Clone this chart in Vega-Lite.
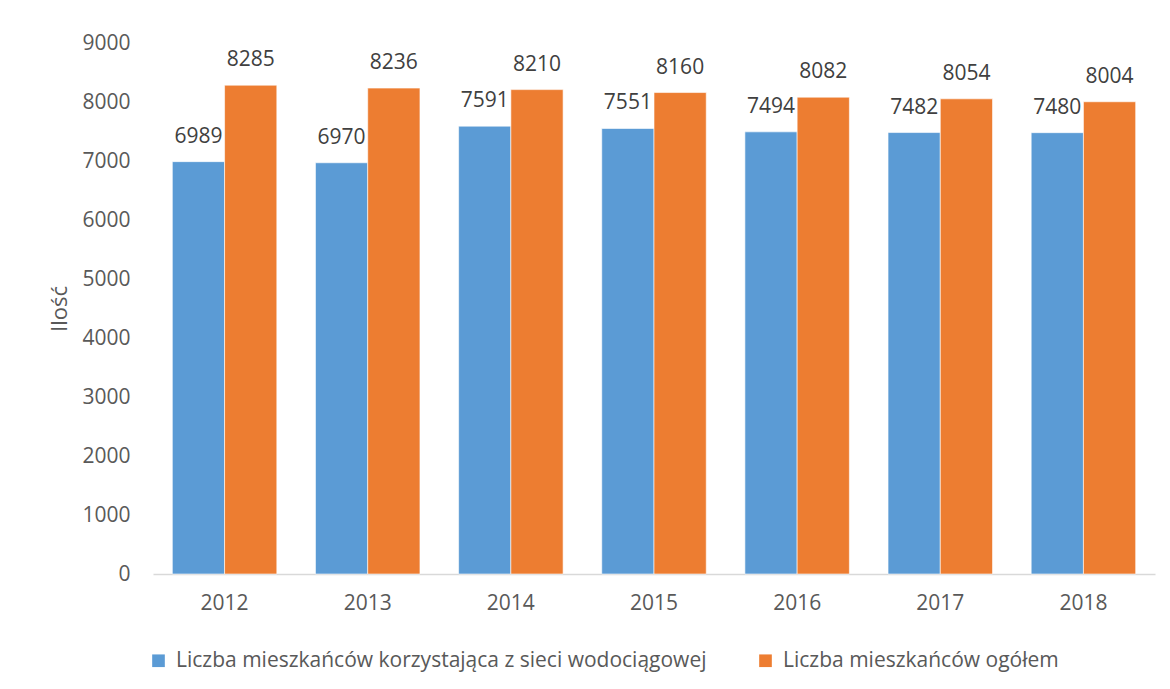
{
  "$schema": "https://vega.github.io/schema/vega-lite/v6.json",
  "autosize": "none",
  "width": 1002,
  "height": 531,
  "padding": {"left": 153, "top": 43, "right": 15, "bottom": 115},
  "background": "white",
  "config": {
    "font": "Open Sans",
    "view": {"stroke": null}
  },
  "data": {
    "values": [
      {"rok": "2012", "seria": "Liczba mieszkańców korzystająca z sieci wodociągowej", "wartosc": 6989},
      {"rok": "2012", "seria": "Liczba mieszkańców ogółem", "wartosc": 8285},
      {"rok": "2013", "seria": "Liczba mieszkańców korzystająca z sieci wodociągowej", "wartosc": 6970},
      {"rok": "2013", "seria": "Liczba mieszkańców ogółem", "wartosc": 8236},
      {"rok": "2014", "seria": "Liczba mieszkańców korzystająca z sieci wodociągowej", "wartosc": 7591},
      {"rok": "2014", "seria": "Liczba mieszkańców ogółem", "wartosc": 8210},
      {"rok": "2015", "seria": "Liczba mieszkańców korzystająca z sieci wodociągowej", "wartosc": 7551},
      {"rok": "2015", "seria": "Liczba mieszkańców ogółem", "wartosc": 8160},
      {"rok": "2016", "seria": "Liczba mieszkańców korzystająca z sieci wodociągowej", "wartosc": 7494},
      {"rok": "2016", "seria": "Liczba mieszkańców ogółem", "wartosc": 8082},
      {"rok": "2017", "seria": "Liczba mieszkańców korzystająca z sieci wodociągowej", "wartosc": 7482},
      {"rok": "2017", "seria": "Liczba mieszkańców ogółem", "wartosc": 8054},
      {"rok": "2018", "seria": "Liczba mieszkańców korzystająca z sieci wodociągowej", "wartosc": 7480},
      {"rok": "2018", "seria": "Liczba mieszkańców ogółem", "wartosc": 8004}
    ]
  },
  "encoding": {
    "x": {
      "field": "rok", "type": "nominal",
      "scale": {"paddingInner": 0.27, "paddingOuter": 0.135},
      "axis": {
        "title": null, "labelAngle": 0, "ticks": false,
        "domainColor": "#D9D9D9", "domainWidth": 1.5,
        "labelFont": "Open Sans", "labelFontSize": 21, "labelColor": "#595959",
        "labelPadding": 18
      }
    },
    "xOffset": {"field": "seria", "type": "nominal", "scale": {"paddingInner": 0, "paddingOuter": 0}},
    "y": {
      "field": "wartosc", "type": "quantitative",
      "scale": {"domain": [0, 9000], "nice": false},
      "axis": {
        "title": "Ilość", "titleFontSize": 22, "titleColor": "#595959", "titleFontWeight": "normal",
        "titleFont": "Open Sans", "titlePadding": 10,
        "values": [0, 1000, 2000, 3000, 4000, 5000, 6000, 7000, 8000, 9000],
        "format": "d",
        "grid": false, "domain": false, "ticks": false,
        "labelFont": "Open Sans", "labelFontSize": 21, "labelColor": "#595959",
        "labelPadding": 23
      }
    }
  },
  "layer": [
    {
      "mark": {"type": "bar", "stroke": "white", "strokeWidth": 0.6},
      "encoding": {
        "color": {
          "field": "seria", "type": "nominal",
          "scale": {"range": ["#5B9BD5", "#ED7D31"]},
          "legend": {
            "title": null, "orient": "none", "direction": "horizontal",
            "legendX": -5, "legendY": 607,
            "symbolType": "square", "symbolSize": 160, "symbolStrokeWidth": 0,
            "labelFont": "Open Sans", "labelFontSize": 21, "labelColor": "#595959",
            "labelLimit": 0, "columnPadding": 48, "labelOffset": 7
          }
        }
      }
    },
    {
      "mark": {"type": "text", "baseline": "alphabetic", "dy": -19, "font": "Open Sans", "fontSize": 21, "color": "#404040"},
      "encoding": {
        "text": {"field": "wartosc", "type": "quantitative", "format": "d"}
      }
    }
  ]
}
